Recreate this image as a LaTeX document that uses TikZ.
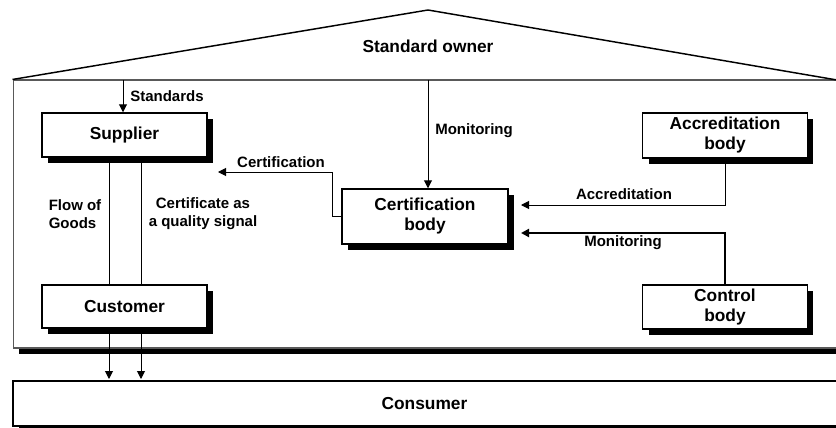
\documentclass[tikz,border=0pt]{standalone}
\usepackage{fontspec}
\setmainfont{Liberation Sans}
\usetikzlibrary{shadows,arrows.meta}
\tikzstyle{house_frame}=[draw=black!65,line width=0.8pt,fill=white,inner sep=0pt,drop shadow={shadow xshift=4.5pt,shadow yshift=-4.5pt,fill=black,opacity=1}]
\tikzstyle{body_box}=[draw=black,line width=1.1pt,fill=white,align=center,inner sep=0pt,font=\bfseries\fontsize{13}{15}\selectfont,drop shadow={shadow xshift=4.5pt,shadow yshift=-4.5pt,fill=black,opacity=1}]
\tikzstyle{flow_label}=[inner sep=0pt,font=\bfseries\fontsize{11.25}{13.5}\selectfont]
\tikzstyle{flow_arrow}=[line width=0.75pt,-{Triangle[length=6pt,width=6pt]}]
\newcommand{\boxwidth}{123.5pt}

\begin{document}
\begin{tikzpicture}[x=0.75pt,y=-0.75pt]
  \useasboundingbox (0,0) rectangle (836,428);

  % house with its roof, running on past the right side
  \node[house_frame,minimum width=640pt,minimum height=201pt] (house) at (439.7,214) {};
  \coordinate (apex) at (428,10);
  \coordinate (eave) at (837,80);
  \draw[line width=1.1pt,line join=bevel] (house.north west) -- (apex) -- (eave);
  \node[inner sep=0pt,font=\bfseries\fontsize{13}{15}\selectfont] (owner) at (428,46) {Standard owner};

  % bodies
  \node[body_box,minimum width=621pt,minimum height=33.75pt] (consumer) at (427,403.5) {};
  \node[inner sep=0pt,font=\bfseries\fontsize{13}{15}\selectfont] (consumertext) at (424.5,403.5) {Consumer};
  \node[body_box,minimum width=\boxwidth,minimum height=33pt] (supplier) at (124.5,135) {Supplier};
  \node[body_box,minimum width=\boxwidth,minimum height=32.5pt] (customer) at (124.5,306.5) {Customer};
  \node[body_box,minimum width=124.5pt,minimum height=41.25pt] (cert) at (425,216.5) {Certification\\body};
  \node[body_box,minimum width=\boxwidth,minimum height=33.75pt] (accred) at (725,135.5) {Accreditation\\body};
  \node[body_box,minimum width=\boxwidth,minimum height=33pt] (control) at (725,307) {Control\\body};

  % standards and monitoring from the owner
  \coordinate (stdtop) at (123,80);
  \draw[flow_arrow] (stdtop) -- (stdtop |- supplier.north);
  \node[flow_label,anchor=west] (stdlabel) at (130,96) {Standards};
  \coordinate (montop) at (428,80);
  \draw[flow_arrow] (montop) -- (montop |- cert.north);
  \node[flow_label,anchor=west] (monlabel) at (435,131) {Monitoring};

  % certification of the supplier
  \coordinate (certtip) at (218,172);
  \draw[flow_arrow] (cert.west) -- ++(-9,0) |- (certtip);
  \node[flow_label] (certlabel) at (281,162) {Certification};

  % accreditation and control
  \coordinate (accrtip) at (521,205);
  \draw[flow_arrow] (accred.south) |- (accrtip);
  \node[flow_label] (accrlabel) at (624,194) {Accreditation};
  \coordinate (ctrltip) at (521,233);
  \draw[flow_arrow,line width=1.5pt] (control.north) |- (ctrltip);
  \node[flow_label] (ctrllabel) at (623,243) {Monitoring};

  % goods and certificate down the chain
  \draw[line width=0.75pt] (supplier.south -| 109,0) -- (customer.north -| 109,0);
  \draw[line width=0.75pt] (supplier.south -| 141,0) -- (customer.north -| 141,0);
  \draw[flow_arrow] (customer.south -| 109,0) -- (109,379);
  \draw[flow_arrow] (customer.south -| 141,0) -- (141,379);
  \node[flow_label,align=left] (goodslabel) at (75,214) {Flow of\\Goods};
  \node[flow_label,align=center] (signallabel) at (203,214) {Certificate as\\a quality signal};
\end{tikzpicture}
\end{document}
